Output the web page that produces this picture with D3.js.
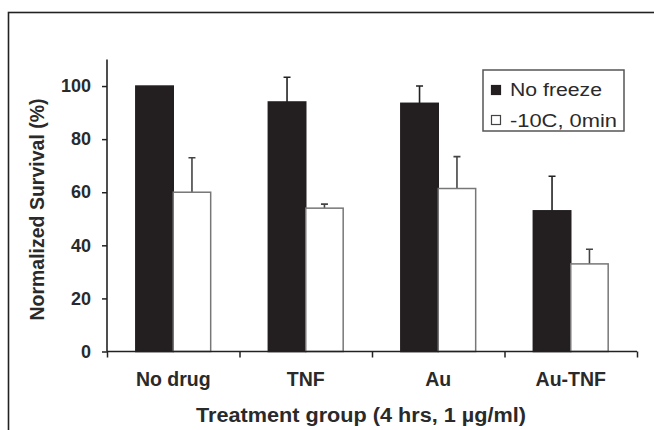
<!DOCTYPE html>
<html>
<head>
<meta charset="utf-8">
<script src="https://cdn.jsdelivr.net/npm/d3@7"></script>
<style>
  body { margin: 0; background: #fff; }
  text { font-family: "Liberation Sans", Arial, sans-serif; fill: #2a2a2a; }
</style>
</head>
<body>
<div id="chart"></div>
<script>
// data
var groups = ["No drug", "TNF", "Au", "Au-TNF"];
var seriesNames = ["No freeze", "-10C, 0min"];
var noFreeze = [100, 94, 93.5, 53];
var noFreezeErr = [0, 9.3, 6.5, 13];
var frozen = [60, 54, 61.4, 33];
var frozenErr = [13, 1.5, 12, 5.5];
var yTicks = [0, 20, 40, 60, 80, 100];

var svgWidth = 654;
var svgHeight = 430;

var margin = { top: 59.5, right: 17, bottom: 78.5, left: 107 };
var chartWidth = svgWidth - margin.left - margin.right;
var chartHeight = svgHeight - margin.top - margin.bottom;

var svg = d3.select("#chart")
  .append("svg")
  .attr("width", svgWidth)
  .attr("height", svgHeight);

// outer frame of the figure
svg.append("rect")
  .attr("x", 8.5)
  .attr("y", 12.5)
  .attr("width", 660)
  .attr("height", 440)
  .attr("fill", "none")
  .attr("stroke", "#222")
  .attr("stroke-width", 1.6);

var chartGroup = svg.append("g")
  .attr("transform", `translate(${margin.left}, ${margin.top})`);

var x0 = d3.scaleBand()
  .domain(groups)
  .range([0, chartWidth])
  .padding(0);

var x1 = d3.scaleBand()
  .domain(seriesNames)
  .range([0, x0.bandwidth()])
  .paddingInner(0)
  .paddingOuter(0.77);

var y = d3.scaleLinear()
  .domain([0, 110])
  .range([chartHeight, 0]);

var rows = groups.map(function(g, i) {
  return [
    { group: g, series: seriesNames[0], value: noFreeze[i], err: noFreezeErr[i] },
    { group: g, series: seriesNames[1], value: frozen[i], err: frozenErr[i] }
  ];
});

var groupG = chartGroup.selectAll(".grp")
  .data(rows)
  .enter()
  .append("g")
  .attr("class", "grp")
  .attr("transform", d => `translate(${x0(d[0].group)},0)`);

// error bars (upper half only), drawn before bars
groupG.selectAll(".err")
  .data(d => d.filter(e => e.err > 0))
  .enter()
  .append("path")
  .attr("class", "err")
  .attr("d", function(d) {
    var cx = x1(d.series) + x1.bandwidth() / 2;
    var top = y(d.value + d.err);
    return `M${cx},${y(d.value)}V${top}M${cx - 3.5},${top}H${cx + 3.5}`;
  })
  .attr("stroke", d => d.series === seriesNames[0] ? "#222" : "#444")
  .attr("stroke-width", 1.6)
  .attr("fill", "none");

groupG.selectAll("rect")
  .data(d => d)
  .enter()
  .append("rect")
  .attr("x", d => x1(d.series))
  .attr("y", d => y(d.value))
  .attr("width", x1.bandwidth())
  .attr("height", d => chartHeight - y(d.value))
  .attr("fill", d => d.series === seriesNames[0] ? "#231f20" : "#fff")
  .attr("stroke", d => d.series === seriesNames[0] ? "#231f20" : "#777")
  .attr("stroke-width", 1.5);

// y axis
var leftAxis = d3.axisLeft(y).tickValues(yTicks).tickSize(5).tickPadding(11);
var yAxisG = chartGroup.append("g").call(leftAxis);
yAxisG.select(".domain").attr("d", `M0,${y(0)}V0`).attr("stroke", "#222").attr("stroke-width", 1.6);
yAxisG.selectAll(".tick line").attr("stroke", "#222").attr("stroke-width", 1.5);
yAxisG.selectAll(".tick text")
  .style("font-family", "'Liberation Sans', Arial, sans-serif")
  .style("font-size", "18px")
  .style("font-weight", "bold")
  .attr("fill", "#2a2a2a");

// x axis with ticks at the group boundaries
var xBounds = d3.scaleLinear().domain([0, groups.length]).range([0, chartWidth]);
var bottomAxis = d3.axisBottom(xBounds).tickValues(d3.range(groups.length + 1)).tickSize(6).tickFormat("");
var xAxisG = chartGroup.append("g")
  .attr("transform", `translate(0, ${chartHeight})`)
  .call(bottomAxis);
xAxisG.select(".domain").attr("d", `M0,0H${chartWidth}`).attr("stroke", "#222").attr("stroke-width", 1.6);
xAxisG.selectAll(".tick line").attr("stroke", "#222").attr("stroke-width", 1.5);

chartGroup.selectAll(".catLabel")
  .data(groups)
  .enter()
  .append("text")
  .attr("class", "catLabel")
  .attr("x", d => x0(d) + x0.bandwidth() / 2)
  .attr("y", chartHeight + 34)
  .attr("text-anchor", "middle")
  .attr("font-size", 19.5)
  .attr("font-weight", "bold")
  .text(d => d);

chartGroup.append("text")
  .attr("x", chartWidth / 2 - 11)
  .attr("y", chartHeight + 70)
  .attr("text-anchor", "middle")
  .attr("font-size", 20)
  .attr("font-weight", "bold")
  .attr("textLength", 330)
  .attr("lengthAdjust", "spacingAndGlyphs")
  .text("Treatment group (4 hrs, 1 \u00b5g/ml)");

chartGroup.append("text")
  .attr("transform", "rotate(-90)")
  .attr("x", -(y(0) + y(110)) / 2 - 4)
  .attr("y", -63)
  .attr("text-anchor", "middle")
  .attr("font-size", 19.5)
  .attr("font-weight", "bold")
  .text("Normalized Survival (%)");

// legend
var legendWidths = [92, 107];
var legend = svg.append("g").attr("transform", "translate(483, 70)");
legend.append("rect")
  .attr("width", 141)
  .attr("height", 61)
  .attr("fill", "#fff")
  .attr("stroke", "#555")
  .attr("stroke-width", 1.5);

legend.selectAll(".sw")
  .data(seriesNames)
  .enter()
  .append("rect")
  .attr("class", "sw")
  .attr("x", 8.5)
  .attr("y", (d, i) => 15.5 + i * 30)
  .attr("width", 9)
  .attr("height", 9)
  .attr("fill", (d, i) => i === 0 ? "#231f20" : "#fff")
  .attr("stroke", (d, i) => i === 0 ? "#231f20" : "#444")
  .attr("stroke-width", 1.2);

legend.selectAll(".lt")
  .data(seriesNames)
  .enter()
  .append("text")
  .attr("class", "lt")
  .attr("x", 27)
  .attr("y", (d, i) => 25.5 + i * 31)
  .attr("font-size", 18)
  .attr("textLength", (d, i) => legendWidths[i])
  .attr("lengthAdjust", "spacingAndGlyphs")
  .text(d => d);
</script>
</body>
</html>
